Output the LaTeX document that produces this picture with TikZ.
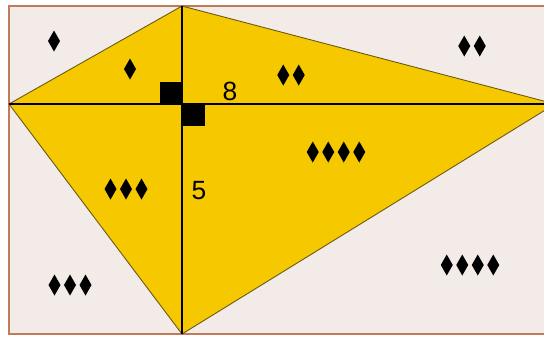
\documentclass[tikz,border=0pt]{standalone}
\usepackage{fontspec}
\setmainfont{Liberation Sans}
\usepackage{xcolor}
\usepackage{tikz}
\definecolor{kitegold}{RGB}{245,200,0}
\definecolor{paperbg}{RGB}{243,235,231}
\definecolor{frameedge}{RGB}{192,122,92}
\definecolor{kiteedge}{RGB}{105,88,20}

\begin{document}
\begin{tikzpicture}[x=0.02cm, y=-0.02cm,
  frame/.style={draw=frameedge,fill=paperbg,line width=0.8pt},
  kite/.style={draw=kiteedge,fill=kitegold,line width=0.5pt},
  diag/.style={draw=black,line width=0.7pt},
  rightmark/.style={fill=black},
  len/.style={font=\fontsize{15}{15}\selectfont,inner sep=0pt},
  pics/pip/.style={code={\fill (0,-10.5) -- (6,0) -- (0,10.5) -- (-6,0) -- cycle;}}]

  \useasboundingbox (0,0) rectangle (544,336);
  \clip (0,0) rectangle (544,336);
  \draw[frame] (9,6) rectangle (555,334);

  \coordinate (top) at (182,6);
  \coordinate (left) at (9,104);
  \coordinate (right) at (555,104);
  \coordinate (bottom) at (182,334);
  \coordinate (centre) at (182,104);

  \draw[kite] (top) -- (right) -- (bottom) -- (left) -- cycle;
  \draw[diag] (left) -- (right);
  \draw[diag] (top) -- (bottom);

  \fill[rightmark] (centre) rectangle ++(-22,-22);
  \fill[rightmark] (centre) rectangle ++(23,22);

  \node[len] (side8) at (230,91) {8};
  \node[len] (side5) at (199,191) {5};

  % rows of pips
  \foreach \cx/\cy/\n in {54/41/1, 130/69/1, 291/75/2, 472/46/2,
                          336/152/4, 126/189/3, 70/285/3, 470/265/4}
    \foreach \k in {1,...,\n}
      \pic at ({\cx+(\k-(\n+1)/2)*15.5},\cy) {pip};
\end{tikzpicture}
\end{document}
